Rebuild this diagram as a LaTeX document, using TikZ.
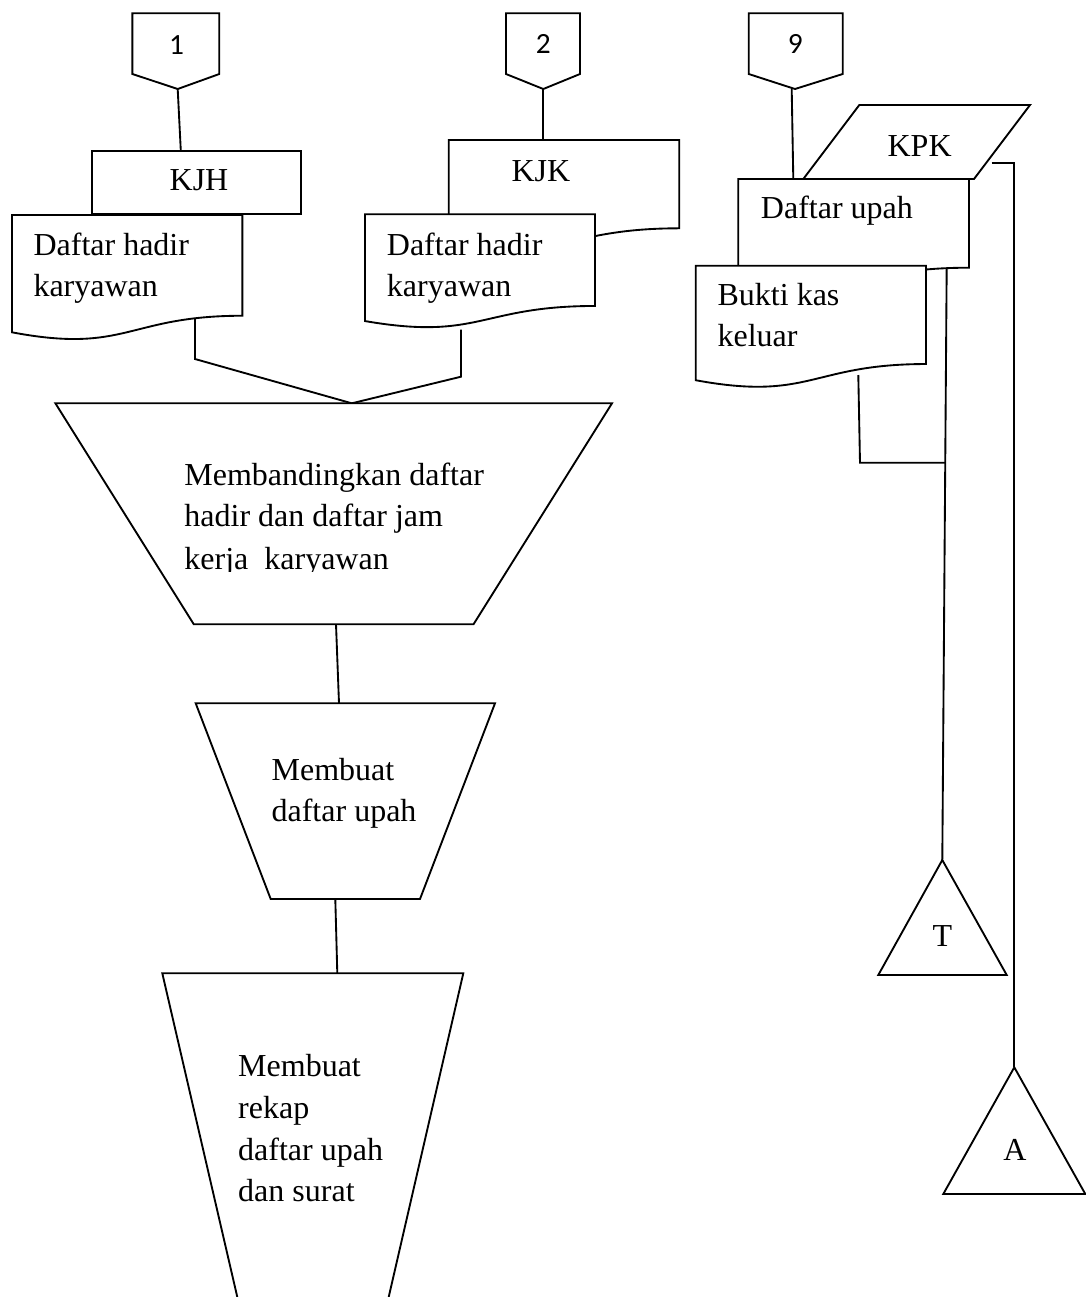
\documentclass[tikz,border=0pt]{standalone}
\usepackage{fontspec}
\setmainfont{Liberation Serif}
\newfontfamily\numfont{Carlito}

% document symbol with a wavy lower edge: x, y (top left), width, height
\newcommand\docbox[4]{%
  \path[shapebox] (#1,#2) -- ({#1+#3},#2) -- ({#1+#3},{#2+0.802*#4})
    .. controls ({#1+0.5*#3},{#2+0.802*#4}) and ({#1+0.5*#3},{#2+1.1075*#4})
    .. (#1,{#2+0.934*#4}) -- cycle;}
% off-page connector: left x, right x, tip x
\newcommand\offpage[3]{%
  \path[shapebox] (#1,13.3) -- (#2,13.3) -- (#2,74) -- (#3,89) -- (#1,74) -- cycle;}

\begin{document}
\begin{tikzpicture}[x=0.75pt,y=-0.75pt,line width=1.4pt,
  shapebox/.style={draw=black,fill=white},
  wire/.style={draw=black},
  lbl/.style={inner sep=0pt,anchor=base west,font=\fontsize{24}{31}\selectfont},
  clbl/.style={inner sep=0pt,anchor=base,font=\fontsize{24}{31}\selectfont},
  numlbl/.style={inner sep=0pt,anchor=center,font=\numfont\fontsize{22}{26}\selectfont}]
\useasboundingbox (0,0) rectangle (1086,1297);

% ---------- connection points ----------
\coordinate (c1tip) at (177.7,89);   \coordinate (kjhtop) at (180.8,150.7);
\coordinate (c2tip) at (543.3,89);   \coordinate (kjktop) at (543.3,140);
\coordinate (c9tip) at (791.7,89);   \coordinate (dutop) at (793.3,179);
\coordinate (d1out) at (195,318);    \coordinate (j1) at (195,359);
\coordinate (d2out) at (461,329.5);  \coordinate (j2) at (461,376.7);
\coordinate (merge) at (351.8,403.3);
\coordinate (p1out) at (336,624.3);  \coordinate (p2in) at (339,703.3);
\coordinate (p2out) at (335.3,899);  \coordinate (p3in) at (337.3,973.3);
\coordinate (bkout) at (858.3,375);  \coordinate (bkjoin) at (860,462.7);
\coordinate (dufoot) at (946.7,266); \coordinate (tapex) at (942.3,860);
\coordinate (tjoin) at (945.2,462.7);
\coordinate (kpkout) at (991.7,162.7); \coordinate (acorner) at (1014.3,162.7);
\coordinate (aapex) at (1014.3,1067.3);

% ---------- connectors ----------
\draw[wire] (c1tip) -- (kjhtop);
\draw[wire] (c2tip) -- (kjktop);
\draw[wire] (c9tip) -- (dutop);
\draw[wire] (d1out) -- (j1) -- (merge);
\draw[wire] (d2out) -- (j2) -- (merge);
\draw[wire] (p1out) -- (p2in);
\draw[wire] (p2out) -- (p3in);
\draw[wire] (bkout) -- (bkjoin) -- (tjoin);
\draw[wire] (dufoot) -- (tapex);
\draw[wire] (kpkout) -- (acorner) -- (aapex);

% ---------- off-page connectors ----------
\offpage{132.4}{219.3}{177.7}
\offpage{506}{580}{543.3}
\offpage{748.7}{842.7}{795}
\node[numlbl] (n1) at (176.5,45) {1};
\node[numlbl] (n2) at (543.3,44) {2};
\node[numlbl] (n9) at (795.3,44) {9};

% ---------- left column of documents ----------
\path[shapebox] (92.4,150.7) rectangle (301.3,214.3);
\node[lbl] (kjh) at (168.75,190.7) {KJH};
\docbox{12}{215}{230.4}{125.6}
\node[lbl] (dh1a) at (32.6,255) {Daftar hadir};
\node[lbl] (dh1b) at (32.6,296) {karyawan};

\docbox{448.7}{140}{230.6}{110.1}
\node[lbl] (kjk) at (510.7,181) {KJK};
\docbox{365}{214.3}{230}{114.3}
\node[lbl] (dh2a) at (386,255) {Daftar hadir};
\node[lbl] (dh2b) at (386,296) {karyawan};

% ---------- right column of documents ----------
\path[shapebox] (859.3,105) -- (1030,105) -- (974,179) -- (803.3,179) -- cycle;
\node[lbl] (kpk) at (886.7,156) {KPK};
\docbox{738.3}{179}{230.7}{110.6}
\node[lbl] (du) at (760,218.3) {Daftar upah};
\docbox{695.7}{265.7}{230.3}{122.6}
\node[lbl] (bk1) at (716.7,305) {Bukti kas};
\node[lbl] (bk2) at (716.7,346.7) {keluar};

% ---------- manual operations ----------
\path[shapebox] (55.4,403.3) -- (612,403.3) -- (473.5,624.3) -- (193.8,624.3) -- cycle;
\node[lbl] (m1a) at (183.5,485.7) {Membandingkan daftar};
\node[lbl] (m1b) at (183.5,526.7) {hadir dan daftar jam};
\begin{scope}
  \clip (150,535) rectangle (520,571.5);
  \node[lbl] (m1c) at (183.5,569) {kerja~ karyawan};
\end{scope}

\path[shapebox] (195.7,703.3) -- (495,703.3) -- (420,899) -- (270.7,899) -- cycle;
\node[lbl] (m2a) at (270.7,780.7) {Membuat};
\node[lbl] (m2b) at (270.7,821) {daftar upah};

\draw[wire] (237.3,1297) -- (162.3,973.3) -- (463.3,973.3) -- (388.7,1297);
\node[lbl] (m3a) at (237.3,1076.7) {Membuat};
\node[lbl] (m3b) at (237.3,1118.3) {rekap};
\node[lbl] (m3c) at (237.3,1160) {daftar upah};
\node[lbl] (m3d) at (237.3,1201.7) {dan surat};

% ---------- files ----------
\path[shapebox] (tapex) -- (1006.7,975) -- (878.3,975) -- cycle;
\node[clbl] (tl) at (942.3,946.7) {T};
\path[shapebox] (aapex) -- (1085.3,1194) -- (943.3,1194) -- cycle;
\node[clbl] (al) at (1015,1160) {A};
\end{tikzpicture}
\end{document}
